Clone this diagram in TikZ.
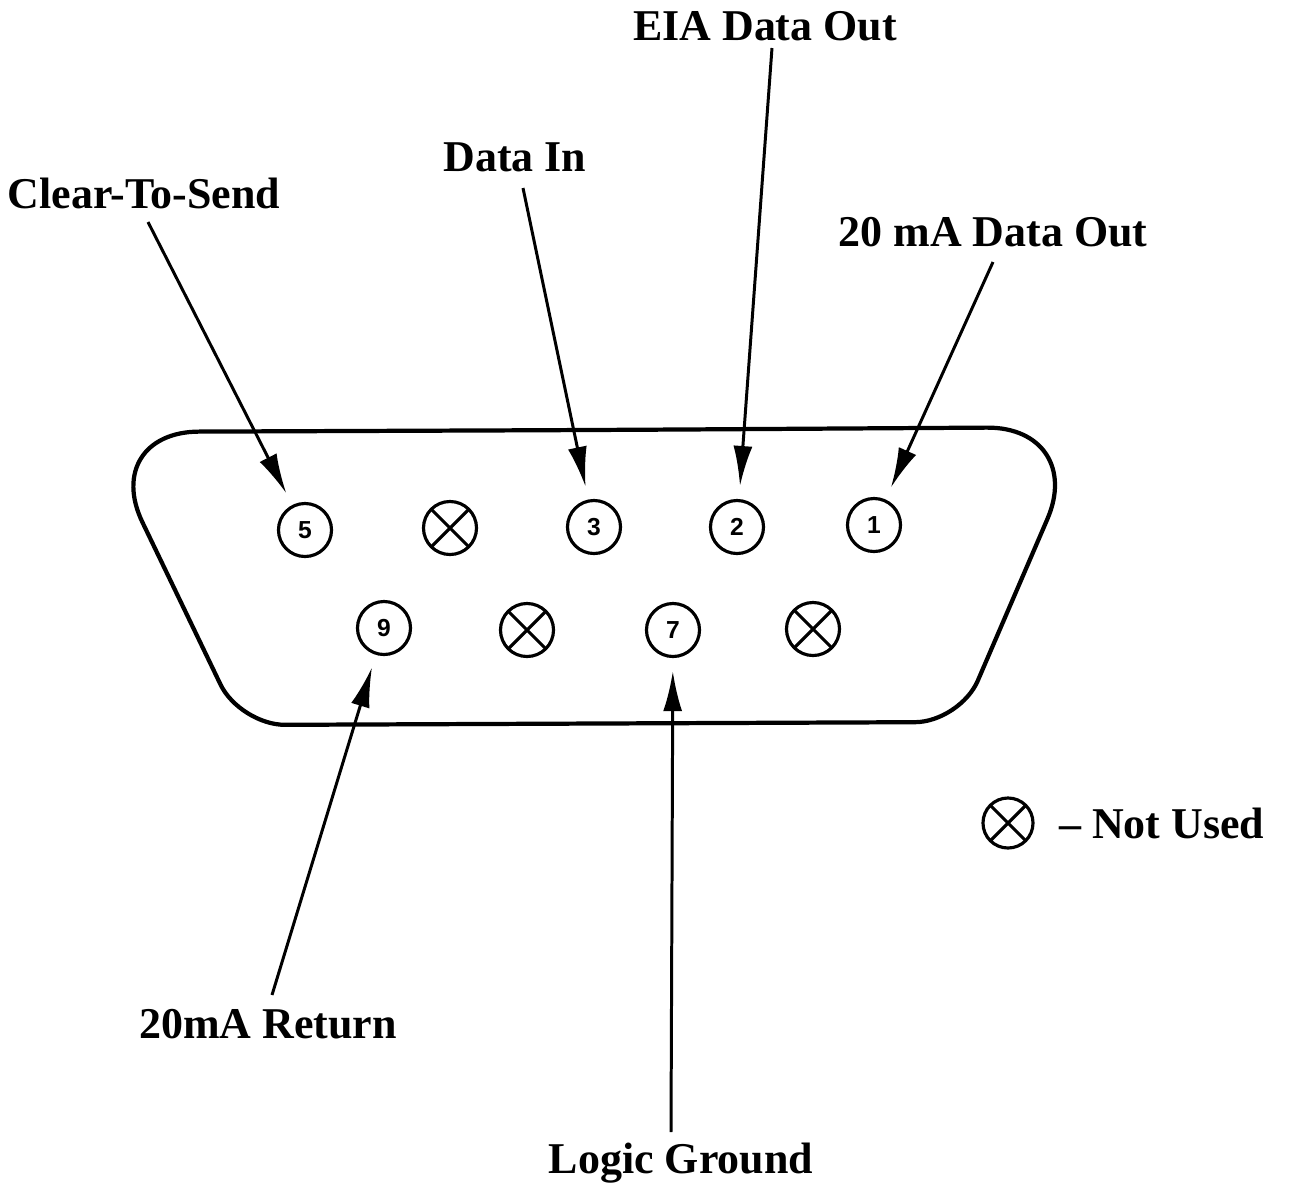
\documentclass[tikz,border=0pt]{standalone}
\usepackage{fontspec}
\setmainfont{Liberation Serif}
\setsansfont{Liberation Sans}
\usetikzlibrary{arrows.meta,positioning}
\tikzstyle{line} = [draw, line width=0.85pt, -{Latex[length=4mm,width=1.9mm]}, shorten >=1.3mm]
\tikzstyle{socket} = [draw, circle, line width=0.9pt, minimum size=5.3mm, inner sep=0pt, font=\sffamily\bfseries\fontsize{7}{7}\selectfont]
\tikzstyle{deadsocket} = [socket, path picture={
    \draw[line width=0.9pt] (path picture bounding box.north west) -- (path picture bounding box.south east)
                            (path picture bounding box.north east) -- (path picture bounding box.south west);}]
\tikzstyle{pinname} = [font=\bfseries\fontsize{12.5}{14}\selectfont]

\begin{document}
\begin{tikzpicture}[x=0.01cm,y=-0.01cm]
    \useasboundingbox (0,0) rectangle (1296,1187);
    % Draw connector shell
    \draw[line width=1.2pt] (600,430) [rounded corners=1cm] -- (1087,427)
        [rounded corners=0.45cm] -- (960,722) -- (240,725)
        [rounded corners=1cm] -- (99,432) -- cycle;
    % Top row of pins
    \node[socket] (p5) at (305,530) {5};
    \node[deadsocket] (p4) at (450,528) {};
    \node[socket] (p3) at (594,527) {3};
    \node[socket] (p2) at (737,527) {2};
    \node[socket] (p1) at (874,525) {1};
    % Bottom row of pins
    \node[socket] (p9) at (384,628) {9};
    \node[deadsocket] (p8) at (527,630) {};
    \node[socket] (p7) at (673,630) {7};
    \node[deadsocket] (p6) at (813,629) {};
    % Signal names
    \node[pinname] (cts) at (144,193) {Clear-To-Send};
    \node[pinname] (din) at (515,157) {Data In};
    \node[pinname] (eia) at (765,26) {EIA Data Out};
    \node[pinname] (mao) at (993,232) {20 mA Data Out};
    \node[pinname] (ret) at (268,1024) {20mA Return};
    \node[pinname] (gnd) at (681,1163) {Logic Ground};
    % Arrow tails
    \coordinate (ctsT) at (148,222);
    \coordinate (dinT) at (523,188);
    \coordinate (eiaT) at (772,48);
    \coordinate (maoT) at (993,262);
    \coordinate (retT) at (272,995);
    \coordinate (gndT) at (671,1132);
    % Arrows to pins
    \draw[line] (ctsT) -- (p5);
    \draw[line] (dinT) -- (p3);
    \draw[line] (eiaT) -- (p2);
    \draw[line] (maoT) -- (p1);
    \draw[line] (retT) -- (p9);
    \draw[line] (gndT) -- (p7);
    % Legend
    \node[deadsocket, minimum size=5mm] (leg) at (1008,823) {};
    \node[pinname, right=1.2mm of leg] (legtext) {-- Not Used};
\end{tikzpicture}
\end{document}
